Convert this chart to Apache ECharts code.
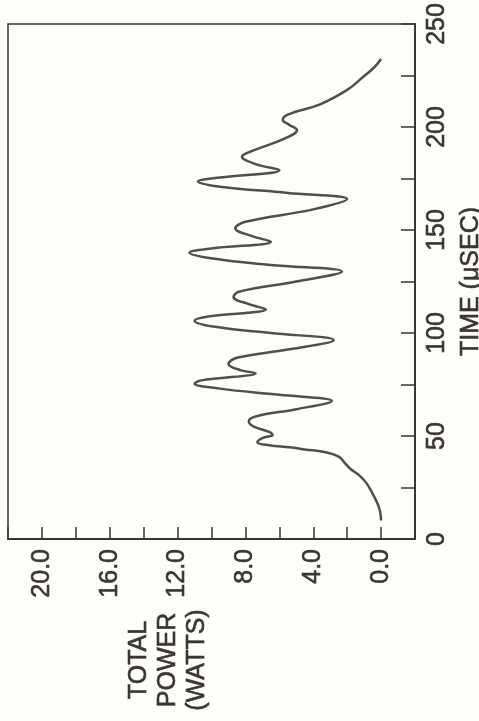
<!DOCTYPE html>
<html>
<head>
<meta charset="utf-8">
<script src="https://cdn.jsdelivr.net/npm/echarts@6/dist/echarts.min.js"></script>
<style>
html,body{margin:0;padding:0;background:#fdfdfa;}
#chart{width:479px;height:721px;}
</style>
</head>
<body>
<div id="chart"></div>
<script>
// Time in microseconds (vertical axis in the rotated figure)
const timeUs = [9, 13, 17, 22, 27, 31, 34, 37, 40, 42, 43.5, 44.5, 45.5, 47, 49, 50.5, 52, 54.5, 57, 59.5,
  63, 67, 70, 73, 75.5, 77, 80.5, 82, 85, 88, 92, 96.5, 100, 103, 106, 108, 111.5, 114, 117.5, 120,
  125, 129.8, 133, 136, 139, 141, 144.3, 147, 150.8, 154, 160, 165, 168, 171, 173.5, 175.5, 179, 182,
  185.6, 189, 194, 198.5, 201, 203.4, 206, 211, 218, 224, 229, 233];
// Total power in watts
const powerW = [0.0, 0.05, 0.2, 0.5, 0.85, 1.3, 1.8, 2.15, 2.5, 3.2, 4.5, 5.4, 6.6, 7.3, 7.0, 6.4, 6.6, 7.5, 7.8, 7.4,
  5.0, 2.9, 6.0, 9.5, 11.0, 10.6, 7.4, 8.3, 9.0, 8.5, 5.5, 2.8, 6.5, 9.8, 11.0, 10.2, 6.8, 7.8, 8.7, 8.4,
  5.0, 2.3, 6.5, 9.8, 11.3, 10.0, 6.5, 7.6, 8.6, 8.0, 4.0, 2.0, 5.5, 9.5, 10.8, 9.5, 6.0, 7.4,
  8.2, 7.4, 5.8, 4.96, 5.4, 5.8, 5.5, 3.6, 2.0, 1.1, 0.4, 0.0];
const powerTickLabels = [0, 4, 8, 12, 16, 20];
const timeTickLabels = [0, 50, 100, 150, 200, 250];

const ink = '#3b3434';
const lineInk = '#544d4d';
const font = 'Liberation Sans, Arial, sans-serif';
const txt = { color: ink, fontFamily: font, fontSize: 25, textBorderColor: ink, textBorderWidth: 0.6 };

const data = timeUs.map((t, i) => [powerW[i], t]);

const chart = echarts.init(document.getElementById('chart'));
chart.setOption({
  backgroundColor: '#fdfdfa',
  animation: false,
  grid: {
    left: 8, right: 64, top: 24, bottom: 182,
    containLabel: false, outerBoundsMode: 'none',
    show: true, borderColor: ink, borderWidth: 1.5, backgroundColor: 'transparent'
  },
  xAxis: {
    type: 'value', min: -2, max: 22, interval: 2, inverse: true,
    axisLine: { show: true, onZero: false, lineStyle: { color: ink, width: 2 } },
    axisTick: { show: true, inside: true, length: 12, lineStyle: { color: ink, width: 1.5 } },
    splitLine: { show: false },
    axisLabel: Object.assign({
      rotate: 90, margin: 10,
      formatter: v => powerTickLabels.includes(v) ? v.toFixed(1) : ''
    }, txt),
    name: 'TOTAL\nPOWER\n(WATTS)',
    nameLocation: 'middle', nameRotate: 90, nameGap: 121,
    nameTextStyle: Object.assign({ lineHeight: 29, align: 'center', verticalAlign: 'bottom' }, txt)
  },
  yAxis: {
    type: 'value', min: 0, max: 250, interval: 25, position: 'right',
    axisLine: { show: true, onZero: false, lineStyle: { color: ink, width: 2 } },
    axisTick: { show: true, inside: true, length: 14, lineStyle: { color: ink, width: 1.5 } },
    splitLine: { show: false },
    axisLabel: Object.assign({
      rotate: 90, margin: 10,
      formatter: v => timeTickLabels.includes(v) ? String(v) : ''
    }, txt),
    name: 'TIME (μSEC)',
    nameLocation: 'middle', nameRotate: 90, nameGap: 38,
    nameTextStyle: Object.assign({}, txt)
  },
  series: [{
    type: 'line', data: data, smooth: 0.4, showSymbol: false, symbol: 'none',
    lineStyle: { color: lineInk, width: 2.5 }
  }]
});
</script>
</body>
</html>
